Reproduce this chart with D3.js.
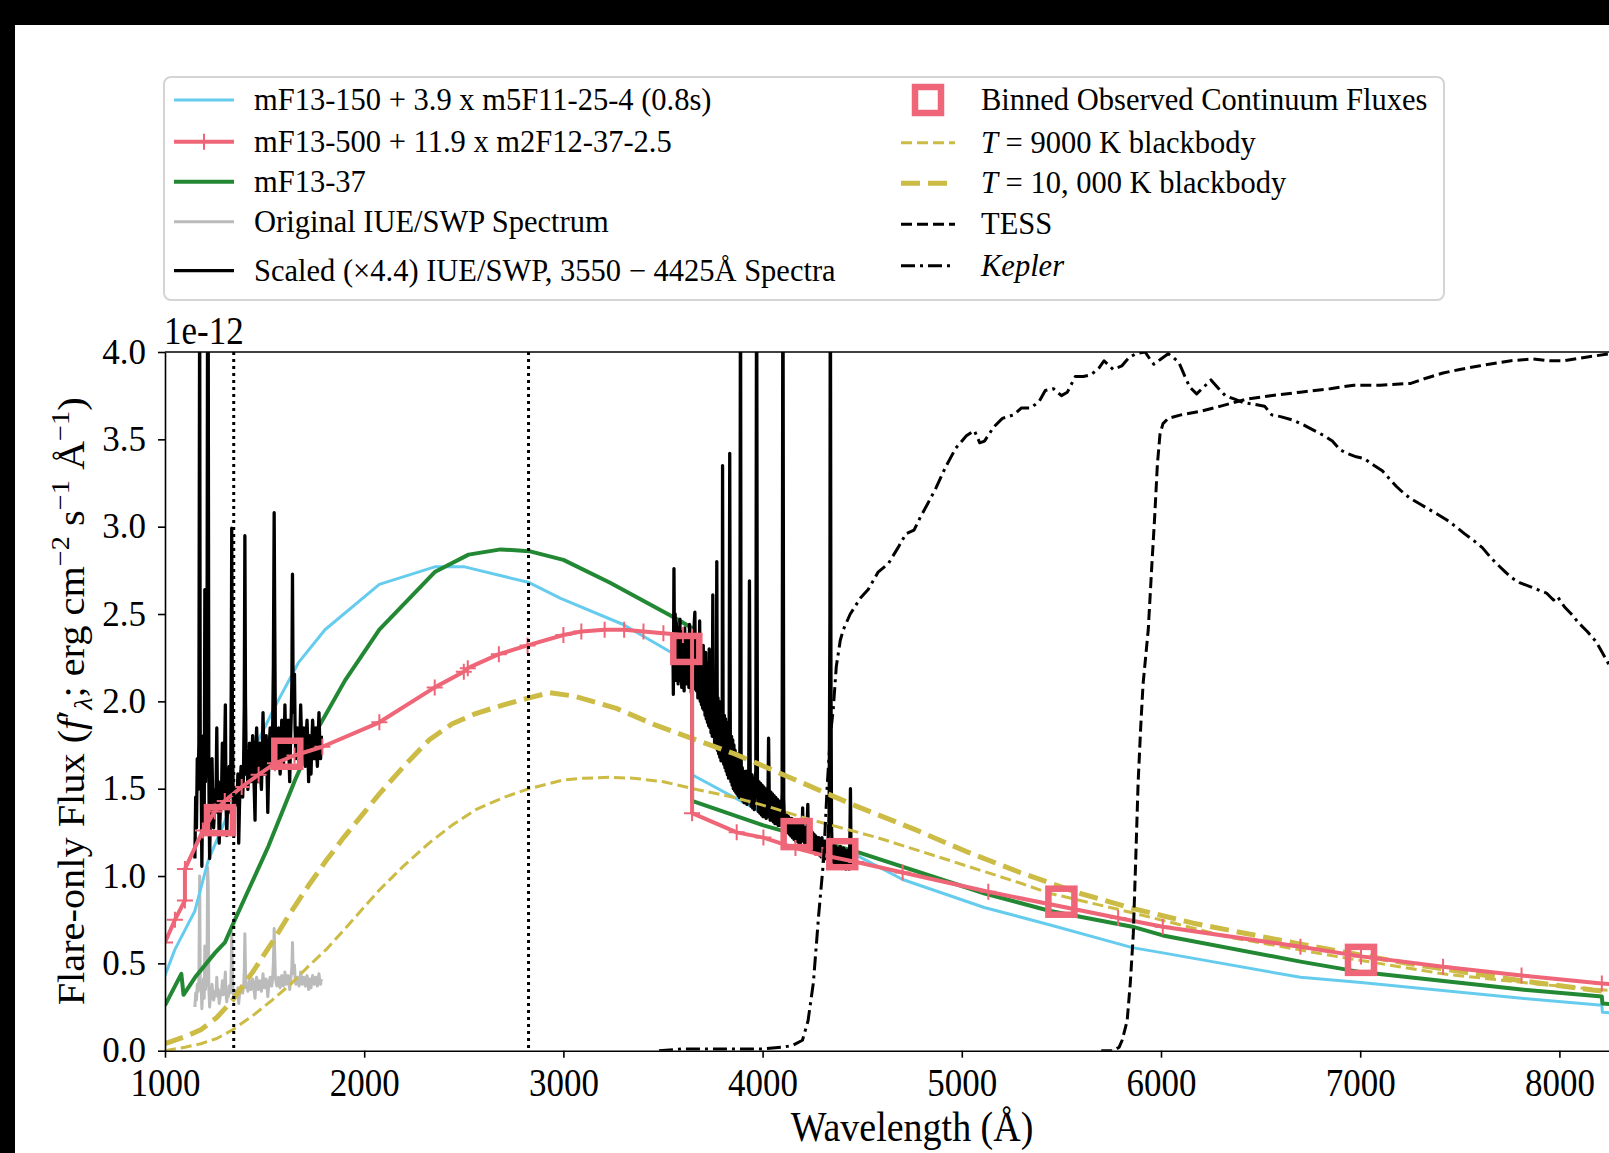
<!DOCTYPE html>
<html>
<head>
<meta charset="utf-8">
<script src="https://cdn.jsdelivr.net/npm/d3@7"></script>
<style>
html, body { margin: 0; padding: 0; background: #000; overflow: hidden; }
svg { display: block; }
text { font-family: "Liberation Serif", "Times New Roman", serif; fill: #000; }
</style>
</head>
<body>
<div id="chart"></div>
<script>
// fluxes in units of 1e-12 erg cm^-2 s^-1 A^-1, wavelengths in A

const iueOriginal = [
    [1150,0.25],[1154,0.33],[1158,0.29],[1162,0.38],[1166,0.34],[1170,0.40],[1174,1.00],[1177,0.36],
    [1181,0.39],[1185,0.24],[1189,0.34],[1193,0.41],[1197,0.30],[1200,0.60],[1203,0.35],[1207,0.40],
    [1211,0.50],[1214,1.05],[1217,0.95],[1220,0.36],[1224,0.25],[1228,0.31],[1232,0.30],[1236,0.38],
    [1240,0.32],[1244,0.29],[1248,0.31],[1252,0.34],[1256,0.33],[1260,0.42],[1264,0.31],[1268,0.35],
    [1272,0.27],[1276,0.30],[1280,0.33],[1284,0.34],[1288,0.40],[1292,0.32],[1296,0.35],[1300,0.40],
    [1303,0.45],[1306,0.33],[1310,0.28],[1314,0.32],[1318,0.31],[1322,0.37],[1326,0.33],[1330,0.35],
    [1333,0.50],[1335,0.68],[1338,0.45],[1342,0.33],[1346,0.31],[1350,0.33],[1354,0.34],[1358,0.32],
    [1362,0.33],[1366,0.36],[1370,0.27],[1374,0.32],[1378,0.35],[1382,0.37],[1386,0.34],[1390,0.33],
    [1394,0.36],[1398,0.45],[1401,0.67],[1404,0.46],[1408,0.36],[1412,0.38],[1416,0.34],[1420,0.36],
    [1424,0.40],[1428,0.37],[1432,0.35],[1436,0.38],[1440,0.41],[1444,0.37],[1448,0.34],[1452,0.30],
    [1456,0.39],[1460,0.42],[1464,0.38],[1468,0.35],[1472,0.37],[1476,0.40],[1480,0.36],[1484,0.34],
    [1488,0.38],[1492,0.44],[1496,0.39],[1500,0.36],[1504,0.38],[1508,0.41],[1512,0.37],[1516,0.31],
    [1520,0.36],[1524,0.40],[1528,0.42],[1532,0.39],[1536,0.37],[1540,0.41],[1544,0.50],[1548,0.70],
    [1551,0.55],[1554,0.42],[1558,0.39],[1562,0.37],[1566,0.40],[1570,0.42],[1574,0.38],[1578,0.36],
    [1582,0.39],[1586,0.43],[1590,0.40],[1594,0.37],[1598,0.39],[1602,0.45],[1606,0.40],[1610,0.38],
    [1614,0.41],[1618,0.43],[1622,0.39],[1626,0.35],[1630,0.40],[1634,0.44],[1637,0.48],[1640,0.62],
    [1643,0.47],[1647,0.44],[1650,0.49],[1653,0.42],[1657,0.38],[1661,0.40],[1665,0.42],[1669,0.39],
    [1673,0.37],[1677,0.40],[1681,0.45],[1685,0.41],[1689,0.38],[1693,0.40],[1697,0.42],[1701,0.39],
    [1705,0.37],[1709,0.41],[1713,0.43],[1717,0.40],[1721,0.35],[1725,0.41],[1729,0.39],[1733,0.36],
    [1737,0.40],[1741,0.43],[1745,0.41],[1749,0.38],[1753,0.40],[1757,0.42],[1761,0.39],[1765,0.37],
    [1769,0.41],[1773,0.44],[1777,0.40],[1781,0.38],[1785,0.41]
];
const iueScale = 4.4;

const opticalSpectrum = [
    [3550,2.30],[3552,2.04],[3555,2.76],[3558,2.20],[3561,2.50],[3564,2.12],[3567,2.45],[3570,2.18],
    [3573,2.42],[3576,2.10],[3579,2.38],[3582,2.22],[3585,2.47],[3588,2.12],[3591,2.36],[3594,2.08],
    [3597,2.40],[3600,2.15],[3603,2.33],[3606,2.06],[3609,2.42],[3612,2.14],[3615,2.35],[3618,2.10],
    [3621,2.38],[3624,2.16],[3627,2.31],[3630,2.08],[3633,2.44],[3636,2.12],[3639,2.30],[3642,2.05],
    [3645,2.36],[3648,2.10],[3651,2.28],[3654,2.07],[3657,2.45],[3660,2.51],[3663,2.15],[3666,2.38],
    [3669,2.06],[3672,2.30],[3675,2.02],[3678,2.33],[3681,2.08],[3684,2.46],[3687,2.00],[3690,2.28],
    [3693,1.98],[3696,2.30],[3699,1.96],[3702,2.32],[3705,1.95],[3708,2.25],[3711,1.92],[3714,2.28],
    [3717,1.90],[3720,2.22],[3723,1.88],[3726,2.20],[3729,1.86],[3732,2.30],[3735,1.85],[3738,2.18],
    [3741,1.82],[3744,2.15],[3747,1.80],[3750,2.61],[3753,1.80],[3756,2.12],[3759,1.76],[3762,2.10],
    [3765,1.74],[3768,2.05],[3770,2.80],[3773,1.72],[3776,2.02],[3779,1.70],[3782,2.00],[3785,1.68],
    [3788,1.98],[3791,1.66],[3794,1.95],[3797,1.70],[3799,3.35],[3802,1.75],[3805,1.64],[3808,1.92],
    [3811,1.62],[3814,1.90],[3817,1.60],[3820,1.88],[3823,1.58],[3826,1.85],[3829,1.56],[3832,1.80],
    [3835,3.42],[3838,1.75],[3841,1.54],[3844,1.80],[3847,1.52],[3850,1.78],[3853,1.50],[3856,1.75],
    [3859,1.49],[3862,1.72],[3865,1.48],[3868,1.70],[3871,1.47],[3874,1.68],[3877,1.46],[3880,1.66],
    [3883,1.45],[3886,1.75],[3889,4.80],[3892,1.70],[3895,1.44],[3898,1.62],[3901,1.43],[3904,1.60],
    [3907,1.42],[3910,1.58],[3914,1.42],[3918,1.60],[3922,1.41],[3926,1.57],[3930,1.45],[3934,2.69],
    [3938,1.55],[3942,1.40],[3946,1.58],[3950,1.39],[3954,1.56],[3958,1.38],[3962,1.55],[3966,1.60],
    [3970,4.80],[3974,1.55],[3978,1.37],[3982,1.54],[3986,1.36],[3990,1.53],[3994,1.35],[3998,1.52],
    [4002,1.34],[4006,1.51],[4010,1.34],[4014,1.50],[4018,1.33],[4022,1.49],[4026,1.34],[4030,1.79],
    [4034,1.40],[4038,1.32],[4042,1.48],[4046,1.32],[4050,1.47],[4054,1.31],[4058,1.46],[4062,1.30],
    [4066,1.45],[4070,1.30],[4074,1.44],[4078,1.29],[4082,1.43],[4086,1.29],[4090,1.42],[4094,1.32],
    [4098,1.48],[4102,4.80],[4106,1.45],[4110,1.28],[4114,1.36],[4118,1.26],[4122,1.35],[4126,1.25],
    [4130,1.34],[4134,1.24],[4138,1.33],[4142,1.23],[4146,1.33],[4150,1.22],[4154,1.32],[4158,1.21],
    [4162,1.31],[4166,1.20],[4170,1.30],[4174,1.20],[4178,1.30],[4182,1.19],[4186,1.29],[4190,1.19],
    [4194,1.28],[4198,1.22],[4201,1.39],[4204,1.20],[4208,1.28],[4212,1.18],[4216,1.27],[4220,1.19],
    [4224,1.30],[4227,1.41],[4230,1.20],[4234,1.26],[4238,1.16],[4242,1.26],[4246,1.15],[4250,1.25],
    [4254,1.15],[4258,1.24],[4262,1.14],[4266,1.23],[4270,1.13],[4274,1.22],[4278,1.13],[4282,1.22],
    [4286,1.12],[4290,1.21],[4294,1.11],[4298,1.22],[4302,1.11],[4306,1.20],[4310,1.10],[4314,1.20],
    [4318,1.10],[4322,1.19],[4326,1.12],[4330,1.24],[4334,1.35],[4338,2.50],[4340,4.80],[4343,2.20],
    [4346,1.28],[4350,1.12],[4354,1.08],[4358,1.18],[4362,1.07],[4366,1.17],[4370,1.07],[4374,1.16],
    [4378,1.06],[4382,1.16],[4386,1.06],[4390,1.17],[4394,1.05],[4398,1.15],[4402,1.05],[4406,1.16],
    [4410,1.05],[4414,1.15],[4418,1.04],[4422,1.14],[4426,1.05],[4430,1.15],[4434,1.04],[4438,1.20],
    [4441,1.50],[4444,1.12],[4448,1.06]
];

const model150 = [
    [1000,0.43],[1050,0.58],[1100,0.69],[1150,0.80],[1217,1.09],[1318,1.36],[1435,1.70],[1552,1.97],
    [1669,2.22],[1803,2.41],[2076,2.67],[2354,2.77],[2504,2.77],[2828,2.68],[2986,2.59],[3300,2.44],
    [3572,2.26],[3646,2.22],[3646,1.58],[4004,1.36],[4470,1.12],[4703,0.98],[5113,0.82],[5444,0.72],
    [5856,0.59],[6009,0.56],[6700,0.42],[7004,0.39],[7810,0.30],[8213,0.26],[8216,0.22],[8500,0.20]
];

const model500 = [
    [1000,0.62],[1050,0.75],[1100,0.86],[1100,1.04],[1190,1.26],[1250,1.37],[1300,1.43],[1385,1.51],
    [1470,1.58],[1552,1.645],[1650,1.69],[1790,1.74],[2076,1.88],[2354,2.08],[2500,2.17],[2520,2.19],
    [2676,2.27],[2820,2.32],[3000,2.38],[3090,2.40],[3207,2.41],[3305,2.41],[3402,2.40],[3502,2.39],
    [3600,2.38],[3646,2.37],[3646,1.36],[3870,1.25],[4004,1.22],[4165,1.16],[4300,1.12],[4470,1.08],
    [4703,1.02],[5133,0.91],[5785,0.76],[6009,0.71],[6700,0.595],[7004,0.54],[7416,0.48],[7810,0.43],
    [8213,0.385],[8500,0.36]
];

const model37 = [
    [1000,0.26],[1050,0.37],[1082,0.44],[1093,0.32],[1151,0.42],[1251,0.56],[1301,0.62],[1351,0.75],
    [1519,1.17],[1653,1.55],[1770,1.85],[1904,2.12],[2076,2.41],[2354,2.74],[2524,2.84],[2685,2.87],
    [2828,2.86],[3000,2.81],[3232,2.68],[3556,2.48],[3646,2.42],[3646,1.43],[4004,1.29],[4470,1.14],
    [5115,0.90],[5444,0.80],[5856,0.71],[6009,0.66],[6700,0.51],[7004,0.45],[7810,0.35],[8213,0.31],
    [8216,0.27],[8500,0.25]
];

const bb9000 = [
    [1000,0.00],[1100,0.02],[1180,0.04],[1260,0.07],[1340,0.12],[1440,0.20],[1538,0.29],[1630,0.38],
    [1717,0.48],[1810,0.58],[1897,0.69],[1990,0.81],[2076,0.92],[2200,1.06],[2327,1.19],[2440,1.29],
    [2560,1.38],[2700,1.45],[2828,1.50],[3000,1.55],[3100,1.56],[3232,1.565],[3350,1.56],[3502,1.54],
    [3650,1.50],[3858,1.45],[4050,1.39],[4219,1.33],[4576,1.22],[4936,1.09],[5293,0.96],[5444,0.90],
    [5595,0.86],[5856,0.79],[6341,0.65],[6878,0.54],[7416,0.44],[7900,0.38],[8254,0.345],[8500,0.31]
];

const bb10000 = [
    [1000,0.04],[1100,0.08],[1180,0.12],[1260,0.19],[1340,0.29],[1440,0.45],[1538,0.62],[1630,0.79],
    [1717,0.94],[1810,1.09],[1897,1.22],[1990,1.35],[2076,1.47],[2200,1.63],[2327,1.78],[2440,1.87],
    [2560,1.93],[2700,1.98],[2828,2.02],[2930,2.05],[3054,2.03],[3266,1.96],[3450,1.87],[3617,1.80],
    [3858,1.70],[4003,1.63],[4145,1.56],[4470,1.40],[4757,1.27],[5023,1.14],[5293,1.02],[5444,0.96],
    [5595,0.90],[5856,0.815],[6162,0.73],[6700,0.61],[7236,0.50],[7810,0.40],[8254,0.335],[8500,0.30]
];

const tessCurve = [
    [5700,0.00],[5760,0.00],[5790,0.02],[5805,0.06],[5830,0.17],[5846,0.39],[5861,0.67],[5873,1.09],
    [5885,1.53],[5898,1.85],[5910,2.10],[5936,2.41],[5955,2.80],[5968,3.05],[5982,3.36],[5995,3.53],
    [6010,3.59],[6036,3.62],[6100,3.64],[6197,3.66],[6300,3.69],[6428,3.73],[6550,3.75],[6700,3.77],
    [6850,3.79],[6968,3.81],[7100,3.81],[7254,3.82],[7330,3.85],[7416,3.88],[7500,3.90],[7595,3.92],
    [7700,3.94],[7757,3.95],[7864,3.96],[7950,3.95],[8024,3.95],[8133,3.97],[8254,3.99],[8400,4.00],
    [8500,4.00]
];

const keplerCurve = [
    [3480,0.00],[3600,0.01],[3800,0.01],[4000,0.01],[4100,0.02],[4150,0.03],[4200,0.06],[4228,0.17],
    [4255,0.39],[4281,0.77],[4306,1.09],[4325,1.53],[4340,1.80],[4355,1.96],[4370,2.20],[4390,2.35],
    [4405,2.41],[4440,2.50],[4490,2.59],[4530,2.64],[4580,2.74],[4632,2.79],[4680,2.88],[4720,2.96],
    [4760,2.98],[4790,3.05],[4828,3.13],[4870,3.22],[4918,3.34],[4970,3.45],[5023,3.52],[5063,3.55],
    [5090,3.48],[5114,3.49],[5160,3.57],[5204,3.62],[5260,3.64],[5300,3.68],[5348,3.68],[5390,3.72],
    [5419,3.78],[5460,3.79],[5500,3.75],[5530,3.77],[5570,3.86],[5610,3.86],[5650,3.87],[5690,3.91],
    [5714,3.95],[5760,3.90],[5803,3.92],[5840,3.97],[5875,3.99],[5920,4.00],[5950,3.95],[5964,3.93],
    [6000,3.96],[6036,3.99],[6060,3.97],[6090,3.94],[6120,3.86],[6144,3.80],[6179,3.76],[6215,3.80],
    [6251,3.84],[6290,3.79],[6323,3.75],[6370,3.73],[6413,3.71],[6470,3.70],[6520,3.69],[6556,3.64],
    [6600,3.63],[6664,3.61],[6720,3.58],[6770,3.55],[6820,3.52],[6860,3.49],[6900,3.44],[6932,3.42],
    [6980,3.40],[7020,3.39],[7070,3.35],[7111,3.32],[7150,3.27],[7182,3.23],[7220,3.19],[7254,3.16],
    [7300,3.13],[7344,3.10],[7390,3.07],[7433,3.04],[7480,3.00],[7523,2.96],[7570,2.92],[7613,2.88],
    [7650,2.83],[7683,2.79],[7720,2.75],[7757,2.71],[7800,2.68],[7846,2.66],[7890,2.64],[7935,2.62],
    [7970,2.58],[7990,2.60],[8026,2.54],[8060,2.50],[8096,2.45],[8140,2.40],[8185,2.34],[8220,2.27],
    [8254,2.20],[8300,2.10],[8400,1.90],[8500,1.70]
];

const binnedFluxes = [
    [1276,1.32],[1614,1.70],[3617,2.30],[4171,1.24],[4400,1.125],[5500,0.853],[7004,0.52]
];

const dottedLines = [1345, 2825];
const xTicks = [1000, 2000, 3000, 4000, 5000, 6000, 7000, 8000];
const yTicks = [0, 0.5, 1, 1.5, 2, 2.5, 3, 3.5, 4];

const BLUE = "#66CCEE", RED = "#EE6677", GREEN = "#228833", GREY = "#BBBBBB", OLIVE = "#CCBB44";

const W = 1609, H = 1153;
const plotLeft = 165, plotRight = 1659, plotTop = 352, plotBottom = 1050.7;
const stretchY = 1.12;

const svg = d3.select("#chart").append("svg")
    .attr("width", W)
    .attr("height", H);

svg.append("rect").attr("width", W).attr("height", H).attr("fill", "#000");
svg.append("rect").attr("x", 15).attr("y", 25).attr("width", W - 15).attr("height", H - 25).attr("fill", "#fff");

const x = d3.scaleLinear().domain([1000, 8500]).range([plotLeft, plotRight]);
const y = d3.scaleLinear().domain([0, 4]).range([plotBottom, plotTop]);

svg.append("clipPath").attr("id", "plotclip")
    .append("rect")
    .attr("x", plotLeft).attr("y", plotTop)
    .attr("width", plotRight - plotLeft).attr("height", plotBottom - plotTop);

const plot = svg.append("g").attr("clip-path", "url(#plotclip)");
const line = d3.line().x(d => x(d[0])).y(d => y(d[1]));

function drawLine(data, color, width, dash) {
    let p = plot.append("path")
        .attr("d", line(data))
        .attr("fill", "none")
        .attr("stroke", color)
        .attr("stroke-width", width)
        .attr("stroke-linejoin", "round");
    if (dash) p.attr("stroke-dasharray", dash);
    return p;
}

// spectra and models
drawLine(iueOriginal, GREY, 3);
drawLine(model150, BLUE, 3);
drawLine(model37, GREEN, 4);
drawLine(iueOriginal.map(d => [d[0], d[1] * iueScale]), "#000", 3.3);
drawLine(opticalSpectrum, "#000", 3.3);
drawLine(bb9000, OLIVE, 3, "11,5");
drawLine(bb10000, OLIVE, 5, "19,8");
drawLine(model500, RED, 4);

const plusPath = "M-8,0H8M0,-8V8";
plot.selectAll("path.plus")
    .data(model500)
    .join("path")
    .attr("class", "plus")
    .attr("d", plusPath)
    .attr("transform", d => "translate(" + x(d[0]) + "," + y(d[1]) + ")")
    .attr("stroke", RED)
    .attr("stroke-width", 2);

dottedLines.forEach(v => {
    plot.append("line")
        .attr("x1", x(v)).attr("x2", x(v))
        .attr("y1", plotTop).attr("y2", plotBottom)
        .attr("stroke", "#000")
        .attr("stroke-width", 3)
        .attr("stroke-dasharray", "3,4");
});

drawLine(tessCurve, "#000", 3, "11,5");
drawLine(keplerCurve, "#000", 3, "14,5,3,5");

plot.selectAll("rect.binned")
    .data(binnedFluxes)
    .join("rect")
    .attr("class", "binned")
    .attr("x", d => x(d[0]) - 13)
    .attr("y", d => y(d[1]) - 13)
    .attr("width", 26)
    .attr("height", 26)
    .attr("fill", "none")
    .attr("stroke", RED)
    .attr("stroke-width", 6.5);

// axes
const yAxis = svg.append("g")
    .attr("transform", "translate(" + plotLeft + ",0)")
    .call(d3.axisLeft(y).tickValues(yTicks).tickFormat(d3.format(".1f")).tickSize(7).tickPadding(12).tickSizeOuter(0));
const xAxis = svg.append("g")
    .attr("transform", "translate(0," + plotBottom + ")")
    .call(d3.axisBottom(x).tickValues(xTicks).tickFormat(d3.format("d")).tickSize(7).tickPadding(10).tickSizeOuter(0));

[xAxis, yAxis].forEach(a => {
    a.selectAll("text")
        .attr("font-family", "Liberation Serif, serif")
        .attr("font-size", 35)
        .attr("fill", "#000");
    a.selectAll("line").attr("stroke", "#000").attr("stroke-width", 1.6);
    a.select(".domain").attr("stroke", "#000").attr("stroke-width", 1.6);
});
// the reference lettering is a little taller than it is wide
xAxis.selectAll("text").attr("transform", "translate(0," + (17 * (1 - stretchY)) + ") scale(1," + stretchY + ")");

svg.append("line")
    .attr("x1", plotLeft).attr("x2", plotRight)
    .attr("y1", plotTop).attr("y2", plotTop)
    .attr("stroke", "#000").attr("stroke-width", 1.6);
svg.append("line")
    .attr("x1", plotRight).attr("x2", plotRight)
    .attr("y1", plotTop).attr("y2", plotBottom)
    .attr("stroke", "#000").attr("stroke-width", 1.6);

svg.append("g")
    .attr("transform", "translate(" + (plotLeft - 1) + ",344) scale(1," + stretchY + ")")
    .append("text")
    .attr("font-size", 35)
    .text("1e-12");

function richText(sel, parts) {
    parts.forEach(p => {
        let ts = sel.append("tspan").text(p.t);
        if (p.i) ts.attr("font-style", "italic");
        if (p.dy) ts.attr("dy", p.dy);
        if (p.fs) ts.attr("font-size", p.fs);
    });
    return sel;
}

svg.append("g")
    .attr("transform", "translate(" + ((plotLeft + plotRight) / 2) + ",1141) scale(1," + stretchY + ")")
    .append("text")
    .attr("text-anchor", "middle")
    .attr("font-size", 38)
    .text("Wavelength (Å)");

const ylab = svg.append("text")
    .attr("transform", "translate(84," + ((plotTop + plotBottom) / 2) + ") rotate(-90) scale(1.09,1)")
    .attr("text-anchor", "middle")
    .attr("font-size", 37);
richText(ylab, [
    {t: "Flare-only Flux ("},
    {t: "f", i: 1},
    {t: "′"},
    {t: "λ", i: 1, dy: 8, fs: 26},
    {t: "; erg cm", dy: -8},
    {t: "−2", dy: -15, fs: 26},
    {t: " s", dy: 15},
    {t: "−1", dy: -15, fs: 26},
    {t: " Å", dy: 15},
    {t: "−1", dy: -15, fs: 26},
    {t: ")", dy: 15}
]);

// legend
const legend = svg.append("g");
legend.append("rect")
    .attr("x", 164).attr("y", 77)
    .attr("width", 1280).attr("height", 223)
    .attr("rx", 7)
    .attr("fill", "#fff")
    .attr("stroke", "#d4d4d4")
    .attr("stroke-width", 2);

const legendLeft = [
    {y: 100, color: BLUE, w: 3, parts: [{t: "mF13-150 + 3.9 x m5F11-25-4 (0.8s)"}]},
    {y: 141.7, color: RED, w: 4, plus: true, parts: [{t: "mF13-500 + 11.9 x m2F12-37-2.5"}]},
    {y: 181.7, color: GREEN, w: 4, parts: [{t: "mF13-37"}]},
    {y: 221.7, color: GREY, w: 3, parts: [{t: "Original IUE/SWP Spectrum"}]},
    {y: 270.7, color: "#000", w: 3.3, parts: [{t: "Scaled (×4.4) IUE/SWP, 3550 − 4425Å Spectra"}]}
];
const legendRight = [
    {y: 100, square: true, parts: [{t: "Binned Observed Continuum Fluxes"}]},
    {y: 142.7, color: OLIVE, w: 3, dash: "11,5", parts: [{t: "T", i: 1}, {t: " = 9000 K blackbody"}]},
    {y: 183.3, color: OLIVE, w: 5, dash: "19,8", parts: [{t: "T", i: 1}, {t: " = 10, 000 K blackbody"}]},
    {y: 224.3, color: "#000", w: 3, dash: "11,5", parts: [{t: "TESS"}]},
    {y: 265.7, color: "#000", w: 3, dash: "14,5,3,5", parts: [{t: "Kepler", i: 1}]}
];

function legendColumn(items, x0, x1, tx) {
    items.forEach(it => {
        if (it.square) {
            let c = (x0 + x1) / 2;
            legend.append("rect")
                .attr("x", c - 13).attr("y", it.y - 13)
                .attr("width", 26).attr("height", 26)
                .attr("fill", "none")
                .attr("stroke", RED)
                .attr("stroke-width", 6.5);
        } else {
            let l = legend.append("line")
                .attr("x1", x0).attr("x2", x1)
                .attr("y1", it.y).attr("y2", it.y)
                .attr("stroke", it.color)
                .attr("stroke-width", it.w);
            if (it.dash) l.attr("stroke-dasharray", it.dash);
            if (it.plus) {
                legend.append("path")
                    .attr("d", plusPath)
                    .attr("transform", "translate(" + ((x0 + x1) / 2) + "," + it.y + ")")
                    .attr("stroke", it.color)
                    .attr("stroke-width", 2);
            }
        }
        let t = legend.append("text")
            .attr("x", tx)
            .attr("y", it.y + 10)
            .attr("font-size", 30.5);
        richText(t, it.parts);
    });
}

legendColumn(legendLeft, 174, 234, 254);
legendColumn(legendRight, 901, 955, 981);
</script>
</body>
</html>
